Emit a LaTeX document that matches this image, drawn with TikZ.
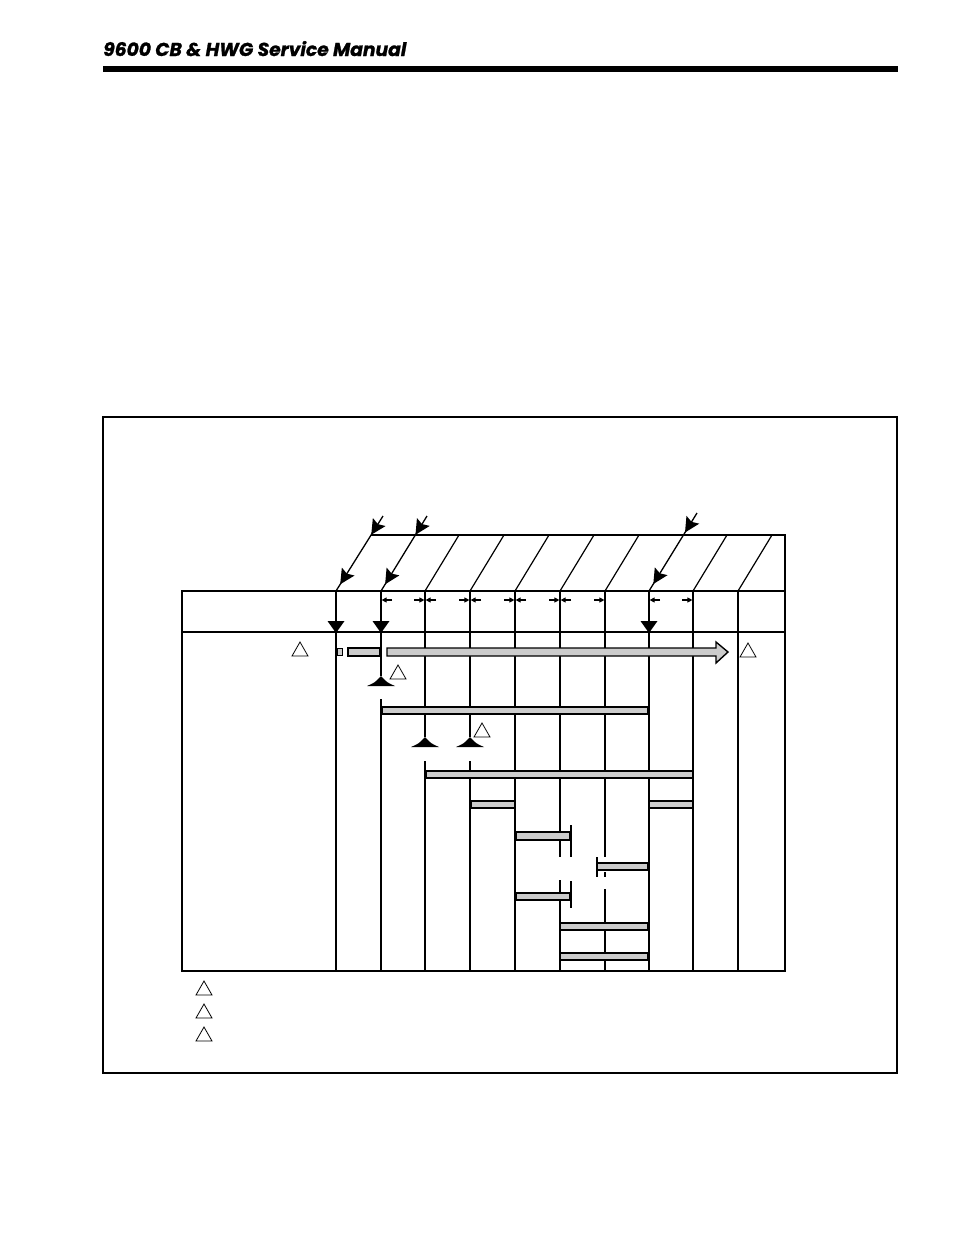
\documentclass[tikz,border=0pt]{standalone}
\usepackage{fontspec}
\newfontfamily\hdrfont{Poppins}[FakeBold=1.2]
\usetikzlibrary{arrows.meta,calc}
\begin{document}
\begin{tikzpicture}[x=1pt,y=-1pt,
  gridline/.style={line width=1.2pt},
  heavyline/.style={line width=1.7pt},
  barbox/.style={draw,line width=1.4pt,fill=gray!40},
  opentri/.style={draw,line width=0.8pt,line join=miter},
  mtn/.style={fill=black},
  dimarrow/.style={-{Triangle[length=5pt,width=5pt]},line width=1.1pt},
  feedline/.style={line width=1.3pt},
  feedtip/.style={fill=black}
]
\useasboundingbox (0,0) rectangle (954,1235);

% page header
\node[anchor=base west,inner sep=0] (title) at (103,56)
  {\hdrfont\bfseries\itshape\fontsize{18.7}{20}\selectfont 9600 CB \& HWG Service Manual};
\fill (103,66) rectangle (898,72);

% outer frame
\draw[gridline] (103,417) rectangle (897,1073);

% grid body
\draw[gridline] (182,591) rectangle (785,971);
\draw[gridline] (182,632) -- (785,632);
\draw[gridline] (370.7,535) -- (785,535) -- (785,591);

% slanted lines in the top band
\foreach \x in {425,470,515,560,605,693,738}
  \draw[gridline] (\x,591) -- (\x+34,535);

% feed lines with arrowheads
\foreach \n/\xa/\ya/\xb in {f1/383/516/336,f2/427/516/381,f3/697/513/649}{
  \coordinate (\n s) at (\xa,\ya);
  \coordinate (\n e) at (\xb,591);
  \draw[feedline] (\n s) -- (\n e);
  \foreach \p in {0.25,0.91}{
    \coordinate (tip) at ($(\n s)!\p!(\n e)$);
    \coordinate (back) at ($(tip)!15pt!(\n s)$);
    \coordinate (ins) at ($(tip)!12.5pt!(\n s)$);
    \fill[feedtip] (tip) -- ($(back)!7.5pt!90:(tip)$) -- (ins) -- ($(back)!7.5pt!-90:(tip)$) -- cycle;
  }
}

% vertical lines
\foreach \x in {336,515,649,693,738}
  \draw[gridline] (\x,591) -- (\x,971);
\draw[gridline] (381,591) -- (381,676);
\draw[gridline] (381,699) -- (381,971);
\draw[gridline] (425,591) -- (425,737);
\draw[gridline] (425,761) -- (425,971);
\draw[gridline] (470,591) -- (470,737);
\draw[gridline] (470,761) -- (470,971);
\draw[gridline] (560,591) -- (560,857);
\draw[gridline] (560,880) -- (560,971);
\draw[gridline] (605,591) -- (605,857);
\draw[gridline] (605,872) -- (605,877);
\draw[gridline] (605,889) -- (605,971);
\foreach \x in {336,381,649}
  \draw[heavyline] (\x,591) -- (\x,632);

% down triangles on the header line
\foreach \x in {336,381,649}
  \fill (\x-8.5,621) -- (\x+8.5,621) -- (\x,633) -- cycle;

% interval arrows
\foreach \a/\b in {381/425,425/470,470/515,515/560,560/605,649/693}{
  \draw[dimarrow] (\a+11,600) -- (\a+0.6,600);
  \draw[dimarrow] (\b-11,600) -- (\b-0.6,600);
}

% row 1
\draw[line width=1pt,fill=gray!40] (337.7,648) rectangle (342.7,655.5);
\draw[barbox] (348,648) rectangle (380,656);
\draw[barbox] (387,648) -- (716,648) -- (716,642) -- (728,652) -- (716,663) -- (716,656) -- (387,656) -- cycle;

% raised markers
\foreach \x/\y in {381/676,425/737,470/737}
  \fill[mtn] (\x-14,\y+10) .. controls (\x-6,\y+6.5) .. (\x,\y) .. controls (\x+6,\y+6.5) .. (\x+14,\y+10) -- cycle;

% bars
\draw[barbox] (382,707) rectangle (648,714);
\draw[barbox] (426,771) rectangle (693,778);
\draw[barbox] (471,801) rectangle (515,808);
\draw[barbox] (649,801) rectangle (693,808);
\draw[barbox] (516,832) rectangle (570,840);
\draw[line width=1.8pt] (571,825) -- (571,857);
\draw[barbox] (597,863) rectangle (648,870);
\draw[line width=1.8pt] (597,857) -- (597,877);
\draw[barbox] (516,893) rectangle (570,900);
\draw[line width=1.8pt] (571,881) -- (571,908);
\draw[barbox] (560,923) rectangle (648,930);
\draw[barbox] (560,953) rectangle (648,960);

% open triangles (note marks)
\foreach \cx/\by in {300/656,748/657,398/679,482/737,204/995,204/1018,204/1041}
  \draw[opentri] (\cx-8,\by) -- (\cx+8,\by) -- (\cx,\by-14) -- cycle;

\end{tikzpicture}
\end{document}
